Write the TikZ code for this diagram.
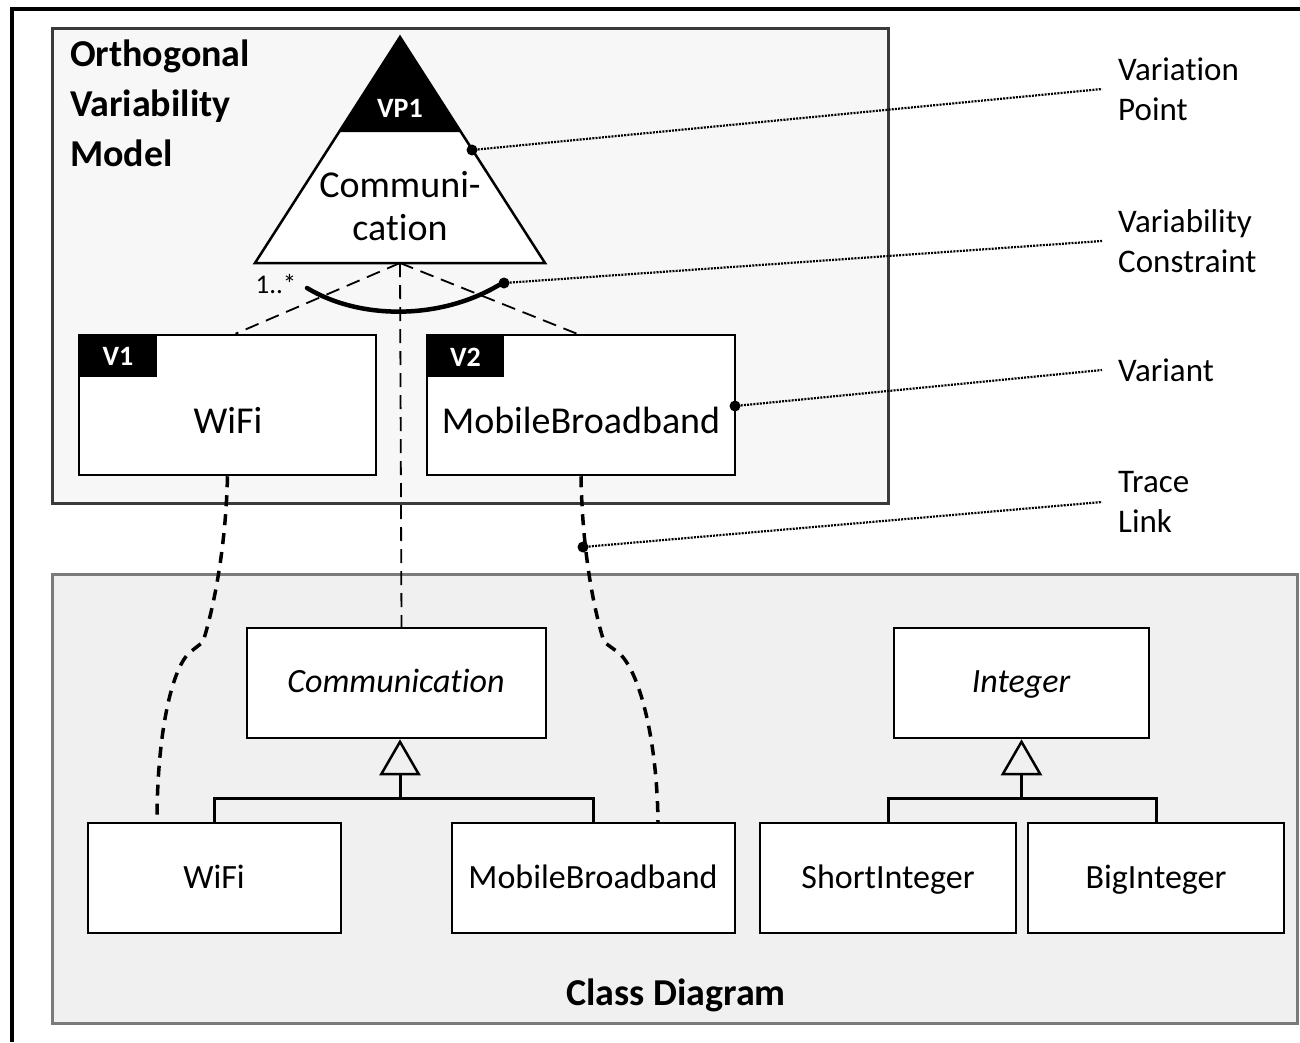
\documentclass[tikz,border=0pt]{standalone}
\usepackage{fontspec}
\setmainfont[Ligatures={NoCommon}]{Carlito}
\usetikzlibrary{arrows.meta}
\definecolor{ovmfill}{HTML}{F7F7F7}
\definecolor{ovmline}{HTML}{3A3A3A}
\definecolor{cdfill}{HTML}{F0F0F0}
\definecolor{cdline}{HTML}{7A7A7A}
\newcommand\fsz[2]{\fontsize{#1}{#2}\selectfont}
\begin{document}
\begin{tikzpicture}[x=1pt,y=-1pt,
  panel/.style={inner sep=0, outer sep=0, line width=3},
  ovmpanel/.style={panel, draw=ovmline, fill=ovmfill},
  cdpanel/.style={panel, draw=cdline, fill=cdfill},
  vbox/.style={draw, line width=2.5, fill=white, inner sep=0, minimum height=140},
  vtag/.style={fill=black, inner sep=0, minimum width=77, minimum height=42},
  tagtext/.style={text=white, font=\fsz{28}{30}\bfseries, anchor=base, inner sep=0},
  cls/.style={draw, line width=2.5, fill=white, inner sep=0, minimum height=110},
  clstext/.style={font=\fsz{34}{38}, anchor=base, inner sep=0},
  vtext/.style={font=\fsz{38}{43}, anchor=base, inner sep=0},
  varlink/.style={dash pattern=on 14pt off 8pt, line width=1.8},
  arcline/.style={line width=4.5, line cap=round},
  trace/.style={dash pattern=on 11pt off 8pt, line width=3.5},
  genline/.style={line width=3},
  leader/.style={dash pattern=on 2pt off 1.2pt, line width=2.2},
  pin/.style={circle, fill=black, inner sep=0, minimum size=11},
  note/.style={font=\fsz{33}{40}, align=left, anchor=west, inner xsep=16pt, inner ysep=0}
]
\useasboundingbox (0,0) rectangle (1300,1042);

% outer frame (left and top edges)
\draw[line width=4] (12,1042) -- (12,8.5) -- (1300,8.5);

% panels
\node[ovmpanel, minimum width=836, minimum height=475] (ovm) at (470,265.5) {};
\node[cdpanel, minimum width=1245, minimum height=449] (cd) at (674.5,798.5) {};

\node[font=\fsz{38}{50}\bfseries, align=left, anchor=north west, inner sep=0]
  (ovmtitle) at (70,40) {Orthogonal\\Variability\\Model};
\node[font=\fsz{38}{40}\bfseries, anchor=base, inner sep=0] (cdtitle) at (676,1005) {Class Diagram};

% variation point triangle
\coordinate (vpApex) at (400,37);
\coordinate (vpL) at (255,263);
\coordinate (vpR) at (545,263);
\coordinate (vpBase) at (400,263);
\draw[line width=2.5, fill=white, line join=miter] (vpApex) -- (vpL) -- (vpR) -- cycle;
\fill (vpApex) -- (339,132) -- (461,132) -- cycle;
\node[tagtext] (vptag) at (400,117) {VP1};
\node[font=\fsz{38}{43}, align=center, anchor=north, inner sep=0] (vpname) at (400,171) {Communi-\\cation};

% variants
\node[vbox, minimum width=297] (v1) at (227.5,405) {};
\node[vbox, minimum width=308] (v2) at (581,405) {};
\node[vtag] (v1tag) at (118,356) {};
\node[vtag] (v2tag) at (465.5,356) {};
\node[tagtext] (v1tagtext) at (118,365) {V1};
\node[tagtext] (v2tagtext) at (465.5,366) {V2};
\node[vtext] (v1text) at (228,433) {WiFi};
\node[vtext] (v2text) at (581,433) {MobileBroadband};

% classes
\node[cls, minimum width=299] (cComm) at (396.5,683) {};
\node[cls, minimum width=255] (cInt) at (1021.5,683) {};
\node[cls, minimum width=253] (cWiFi) at (214.5,878) {};
\node[cls, minimum width=283] (cMB) at (593.5,878) {};
\node[cls, minimum width=256] (cShort) at (888,878) {};
\node[cls, minimum width=256] (cBig) at (1156,878) {};
\node[clstext, font=\fsz{34}{38}\itshape] (tComm) at (396,692) {Communication};
\node[clstext, font=\fsz{34}{38}\itshape] (tInt) at (1021,692) {Integer};
\node[clstext] (tWiFi) at (214,888) {WiFi};
\node[clstext] (tMB) at (593,888) {MobileBroadband};
\node[clstext] (tShort) at (888,888) {ShortInteger};
\node[clstext] (tBig) at (1156,888) {BigInteger};

% variability dependencies
\draw[varlink] (vpBase) -- ([xshift=8]v1.north);
\draw[varlink] (vpBase) -- ([xshift=-4]v2.north);
\draw[varlink] (vpBase) -- ([xshift=5]cComm.north);

% alternative choice arc with cardinality
\draw[arcline] (307,288) .. controls (360,320) and (440,320) .. (499,285);
\node[font=\fsz{27}{30}, anchor=base, inner sep=0] (card) at (276,293) {1..*};

% trace links
\draw[trace] (v1.south) .. controls (226,540) and (216,600) .. (203,642)
  -- (189,653) .. controls (170,672) and (157,740) .. ([xshift=-57.5]cWiFi.north);
\draw[trace] (v2.south) .. controls (582,540) and (591,600) .. (604,642)
  -- (619,653) .. controls (640,672) and (657,740) .. ([xshift=64.5]cMB.north);

% generalisations
\coordinate (gC) at (400,798);
\coordinate (gI) at (1021.5,798);
\draw[genline] (cWiFi.north) |- (cMB.north |- gC) -- (cMB.north);
\draw[genline, -{Triangle[open, length=36, width=41, line width=2.5]}] (gC) -- (gC |- cComm.south);
\draw[genline] (cShort.north) |- (cBig.north |- gI) -- (cBig.north);
\draw[genline, -{Triangle[open, length=36, width=41, line width=2.5]}] (gI) -- (gI |- cInt.south);

% legend
\node[pin] (pVP) at (472,150) {};
\node[pin] (pVC) at (504,283) {};
\node[pin] (pV) at (735,406) {};
\node[pin] (pT) at (583,547) {};
\node[note] (nVP) at (1102,89) {Variation\\Point};
\node[note] (nVC) at (1102,241) {Variability\\Constraint};
\node[note] (nV) at (1102,370) {Variant};
\node[note] (nT) at (1102,502) {Trace\\Link};
\draw[leader] (pVP) -- (nVP.west);
\draw[leader] (pVC) -- (nVC.west);
\draw[leader] (pV) -- (nV.west);
\draw[leader] (pT) -- (nT.west);
\end{tikzpicture}
\end{document}
